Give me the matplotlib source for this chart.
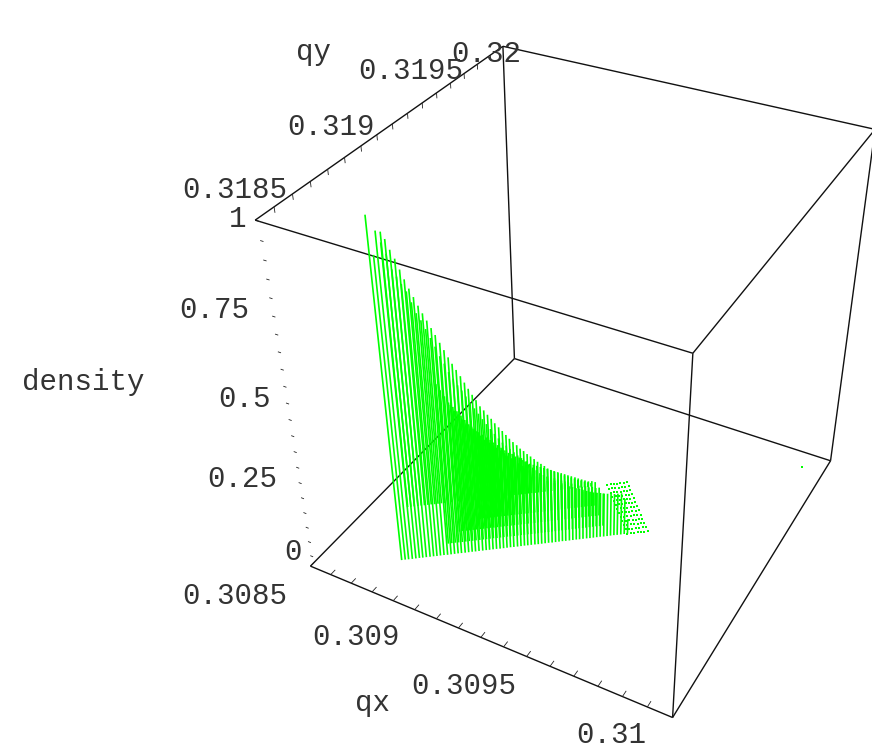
"""Density of tune points in the (qx, qy) plane, 3D box view with green drop lines."""
import numpy as np
import matplotlib
matplotlib.use("Agg")
import matplotlib.pyplot as plt
from matplotlib.collections import LineCollection

plt.rcParams["font.family"] = ["Liberation Mono", "DejaVu Sans Mono"]

# ---------------------------------------------------------------------------
# Data
# ---------------------------------------------------------------------------
QX_RANGE = (0.3085, 0.3101)
QY_RANGE = (0.3185, 0.3201)
Z_RANGE = (-0.04, 1.0)

qx_front = [
    0.308802, 0.308813, 0.308824, 0.308836, 0.308847, 0.308858, 0.308869, 0.308880, 0.308892, 0.308903,
    0.308914, 0.308925, 0.308936, 0.308948, 0.308959, 0.308970, 0.308981, 0.308992, 0.309004, 0.309015,
    0.309026, 0.309037, 0.309048, 0.309060, 0.309071, 0.309082, 0.309093, 0.309104, 0.309116, 0.309127,
    0.309138, 0.309149, 0.309160, 0.309172, 0.309183, 0.309194, 0.309205, 0.309216, 0.309228, 0.309239,
    0.309250, 0.309261, 0.309272, 0.309284, 0.309295, 0.309306, 0.309317, 0.309328, 0.309340, 0.309351,
    0.309362, 0.309373, 0.309384, 0.309396, 0.309407, 0.309418, 0.309429, 0.309440, 0.309452, 0.309463,
    0.309474, 0.309485, 0.309496, 0.309508, 0.309519, 0.309530, 0.309541, 0.309552, 0.309564, 0.309575,
    0.309586, 0.309597,
]
qy_front = [
    0.318702, 0.318711, 0.318719, 0.318728, 0.318737, 0.318746, 0.318754, 0.318763, 0.318772, 0.318781,
    0.318789, 0.318798, 0.318807, 0.318815, 0.318824, 0.318833, 0.318842, 0.318850, 0.318859, 0.318868,
    0.318877, 0.318885, 0.318894, 0.318903, 0.318912, 0.318920, 0.318929, 0.318938, 0.318946, 0.318955,
    0.318964, 0.318973, 0.318981, 0.318990, 0.318999, 0.319008, 0.319016, 0.319025, 0.319034, 0.319042,
    0.319051, 0.319060, 0.319069, 0.319077, 0.319086, 0.319095, 0.319104, 0.319112, 0.319121, 0.319130,
    0.319139, 0.319147, 0.319156, 0.319165, 0.319173, 0.319182, 0.319191, 0.319200, 0.319208, 0.319217,
    0.319226, 0.319235, 0.319243, 0.319252, 0.319261, 0.319269, 0.319278, 0.319287, 0.319296, 0.319304,
    0.319313, 0.319322,
]
density_front = [
    1.0, 0.896, 0.958, 0.927, 0.896, 0.854, 0.834, 0.813, 0.792, 0.761,
    0.73, 0.709, 0.683, 0.657, 0.631, 0.602, 0.579, 0.553, 0.532, 0.511,
    0.494, 0.475, 0.454, 0.436, 0.418, 0.40, 0.383, 0.366, 0.35, 0.334,
    0.319, 0.308, 0.296, 0.284, 0.272, 0.262, 0.249, 0.239, 0.227, 0.217,
    0.206, 0.198, 0.19, 0.183, 0.175, 0.168, 0.163, 0.158, 0.151, 0.146,
    0.141, 0.137, 0.133, 0.128, 0.124, 0.12, 0.117, 0.115, 0.112, 0.11,
    0.108, 0.106, 0.106, 0.106, 0.085, 0.012,
]

# rows behind the front one: first index on the front row, shift in qx/qy, heights
row_start = [14, 18, 24, 5]
row_dqx = [-0.0000436, -0.0000872, -0.000130, -0.000213]
row_dqy = [0.000047, 0.000094, 0.000140, 0.000230]
row_density = [
    [0.49, 0.47, 0.45, 0.43, 0.415, 0.40, 0.385, 0.37, 0.355, 0.34, 0.33, 0.315, 0.30, 0.29,
     0.28, 0.27, 0.255, 0.245, 0.235, 0.225, 0.215, 0.205, 0.195, 0.185, 0.18, 0.17, 0.16,
     0.155, 0.15, 0.14, 0.135, 0.13, 0.125, 0.12, 0.115, 0.11, 0.105, 0.10, 0.095, 0.09, 0.085,
     0.085, 0.08, 0.08, 0.075, 0.075],
    [0.39, 0.37, 0.355, 0.34, 0.325, 0.315, 0.30, 0.29, 0.275, 0.265, 0.255, 0.245, 0.235,
     0.225, 0.215, 0.205, 0.195, 0.185, 0.175, 0.165, 0.16, 0.15, 0.145, 0.135, 0.13, 0.125,
     0.12, 0.115, 0.11, 0.105, 0.10, 0.095, 0.09, 0.085, 0.08, 0.075, 0.07,
     0.07, 0.065, 0.065, 0.06, 0.06],
    [0.28, 0.27, 0.26, 0.25, 0.24, 0.23, 0.22, 0.21, 0.20, 0.19, 0.18, 0.175, 0.165, 0.16,
     0.15, 0.145, 0.135, 0.13, 0.125, 0.12, 0.115, 0.11, 0.105, 0.10, 0.095, 0.09, 0.085,
     0.08, 0.075, 0.07, 0.065, 0.06, 0.055, 0.05, 0.05, 0.045],
    [0.834, 0.813, 0.782, 0.756, 0.724, 0.695, 0.667, 0.641, 0.615, 0.591, 0.568, 0.544,
     0.522, 0.497, 0.473, 0.449, 0.428, 0.407, 0.386, 0.364, 0.343, 0.322, 0.303, 0.282,
     0.267, 0.251, 0.236, 0.22, 0.205, 0.191, 0.176, 0.162, 0.149, 0.137, 0.124, 0.114,
     0.102, 0.092, 0.082, 0.071, 0.062, 0.053, 0.043, 0.035, 0.029, 0.022, 0.016, 0.011,
     0.006, 0.001, -0.004, -0.01, -0.014, -0.019, -0.023, -0.027],
]

# near-zero points at the far end of the patch, plus the lone one at the far corner
dot_start = 65
dot_dqx = [0, -0.0000177, -0.0000354, -0.0000531, -0.0000708, -0.0000885,
           -0.000106, -0.000124, -0.000142, -0.000159, -0.000177, -0.000195, -0.000213]
dot_dqy = [0, 0.0000191, 0.0000382, 0.0000573, 0.0000764, 0.0000955,
           0.000115, 0.000134, 0.000153, 0.000172, 0.000191, 0.000210, 0.000230]
lone_qx, lone_qy = 0.310004, 0.320003

qx_ticks = [0.3085, 0.3086, 0.3087, 0.3088, 0.3089, 0.3090, 0.3091, 0.3092,
            0.3093, 0.3094, 0.3095, 0.3096, 0.3097, 0.3098, 0.3099, 0.3100]
qy_ticks = [0.3186, 0.3187, 0.3188, 0.3189, 0.3190, 0.3191, 0.3192, 0.3193,
            0.3194, 0.3195, 0.3196, 0.3197, 0.3198, 0.3199, 0.3200]
z_ticks = [0, 0.05, 0.10, 0.15, 0.20, 0.25, 0.30, 0.35, 0.40, 0.45,
           0.50, 0.55, 0.60, 0.65, 0.70, 0.75, 0.80, 0.85, 0.90, 0.95]

qx_labels = ["0.3085", "0.309", "0.3095", "0.31"]
qy_labels = ["0.3185", "0.319", "0.3195", "0.32"]
z_labels = ["0", "0.25", "0.5", "0.75", "1"]

# ---------------------------------------------------------------------------
# Camera: where the box corners land on the page, fitted to a projective map
# ---------------------------------------------------------------------------
BOX_PIXELS = {
    (0, 0, 0): (311, 567), (1, 0, 0): (672, 717), (0, 1, 0): (514, 358), (1, 1, 0): (831, 461),
    (0, 0, 1): (255, 219), (1, 0, 1): (693, 354), (0, 1, 1): (503, 47), (1, 1, 1): (875, 129),
}
EDGES = [((0, 0, 0), (1, 0, 0)), ((0, 0, 0), (0, 1, 0)), ((0, 1, 0), (1, 1, 0)),
         ((1, 0, 0), (1, 1, 0)), ((0, 1, 0), (0, 1, 1)), ((0, 0, 1), (0, 1, 1)),
         ((0, 1, 1), (1, 1, 1)), ((0, 0, 1), (1, 0, 1)), ((1, 0, 1), (1, 1, 1)),
         ((1, 0, 0), (1, 0, 1)), ((1, 1, 0), (1, 1, 1))]


def fit_camera():
    rows = []
    for (u, v, w), (x, y) in BOX_PIXELS.items():
        rows.append([u, v, w, 1, 0, 0, 0, 0, -x * u, -x * v, -x * w, -x])
        rows.append([0, 0, 0, 0, u, v, w, 1, -y * u, -y * v, -y * w, -y])
    return np.linalg.svd(np.array(rows, float))[2][-1].reshape(3, 4)


CAMERA = fit_camera()


def project_unit(u, v, w):
    p = CAMERA @ np.vstack([u, v, w, np.ones_like(u)])
    return np.column_stack([p[0] / p[2], p[1] / p[2]])


def project(qx, qy, z):
    u = (np.asarray(qx, float) - QX_RANGE[0]) / (QX_RANGE[1] - QX_RANGE[0])
    v = (np.asarray(qy, float) - QY_RANGE[0]) / (QY_RANGE[1] - QY_RANGE[0])
    w = (np.asarray(z, float) - Z_RANGE[0]) / (Z_RANGE[1] - Z_RANGE[0])
    return project_unit(u, v, w)


def segments(qx, qy, z0, qx1, qy1, z1):
    return np.stack([project(qx, qy, z0), project(qx1, qy1, z1)], axis=1)


fig = plt.figure(figsize=(8.72, 7.55), dpi=100, facecolor="white")
ax = fig.add_axes([0, 0, 1, 1])
ax.set_xlim(0, 872)
ax.set_ylim(755, 0)
ax.axis("off")

# box edges
box = [project_unit(np.array([a[0], b[0]], float), np.array([a[1], b[1]], float),
                    np.array([a[2], b[2]], float)) for a, b in EDGES]
ax.add_collection(LineCollection(box, colors="#111111", linewidths=1.0, zorder=1))

# ticks
qx_t = np.array(qx_ticks)
qy_t = np.array(qy_ticks)
z_t = np.array(z_ticks + [1.0])
tick_segs = [
    segments(qx_t, np.full_like(qx_t, QY_RANGE[0]), np.full_like(qx_t, Z_RANGE[0]),
             qx_t, np.full_like(qx_t, QY_RANGE[0] + 0.00003), np.full_like(qx_t, Z_RANGE[0])),
    segments(np.full_like(qy_t, QX_RANGE[0]), qy_t, np.ones_like(qy_t),
             np.full_like(qy_t, QX_RANGE[0]), qy_t, np.full_like(qy_t, 0.985)),
    segments(np.full_like(z_t, QX_RANGE[0] + 0.000008), np.full_like(z_t, QY_RANGE[0]), z_t,
             np.full_like(z_t, QX_RANGE[0] + 0.000022), np.full_like(z_t, QY_RANGE[0]), z_t),
]
ax.add_collection(LineCollection(np.vstack(tick_segs), colors="#222222", linewidths=0.6, zorder=1))

# green drop lines
GREEN = "#00ff00"
qx_arr = np.array(qx_front)
qy_arr = np.array(qy_front)
dens = np.array(density_front)
n = len(dens)
floor = Z_RANGE[0]
all_lines = [segments(qx_arr[:n], qy_arr[:n], np.full(n, floor), qx_arr[:n], qy_arr[:n], dens)]
for start, dqx, dqy, vals in zip(row_start, row_dqx, row_dqy, row_density):
    vals = np.array(vals)
    idx = start + np.arange(len(vals))
    x, y = qx_arr[idx] + dqx, qy_arr[idx] + dqy
    all_lines.append(segments(x, y, np.full(len(vals), floor), x, y, vals))
ax.add_collection(LineCollection(np.vstack(all_lines), colors=GREEN, linewidths=1.2, zorder=2))

# near-zero points
dot_x = np.concatenate([qx_arr[dot_start:] + d for d in dot_dqx])
dot_y = np.concatenate([qy_arr[dot_start:] + d for d in dot_dqy])
pts = project(dot_x, dot_y, np.full_like(dot_x, floor))
ax.scatter(pts[:, 0], pts[:, 1], s=0.7, marker="s", color=GREEN, linewidths=0, zorder=2)
lone = project([lone_qx], [lone_qy], [floor])
ax.scatter(lone[:, 0], lone[:, 1], s=0.7, marker="s", color=GREEN, linewidths=0, zorder=2)

# labels
LABEL_SIZE = 21
TEXT_COLOR = "#333333"
qx_pos = [(235, 596), (356, 637), (464, 686), (611, 735)]
qy_pos = [(235, 190), (331, 127), (411, 71), (486, 54)]
z_pos = [(293, 552), (242, 479), (244, 399), (214, 310), (238, 219)]
for text, (x, y) in zip(qx_labels + qy_labels + z_labels, qx_pos + qy_pos + z_pos):
    ax.text(x, y, text, fontsize=LABEL_SIZE, color=TEXT_COLOR, ha="center", va="center", zorder=3)
ax.text(83, 382, "density", fontsize=LABEL_SIZE, color=TEXT_COLOR, ha="center", va="center")
ax.text(313, 52, "qy", fontsize=LABEL_SIZE, color=TEXT_COLOR, ha="center", va="center")
ax.text(372, 703, "qx", fontsize=LABEL_SIZE, color=TEXT_COLOR, ha="center", va="center")

fig.savefig("out.png", dpi=100, facecolor="white")
plt.close(fig)
